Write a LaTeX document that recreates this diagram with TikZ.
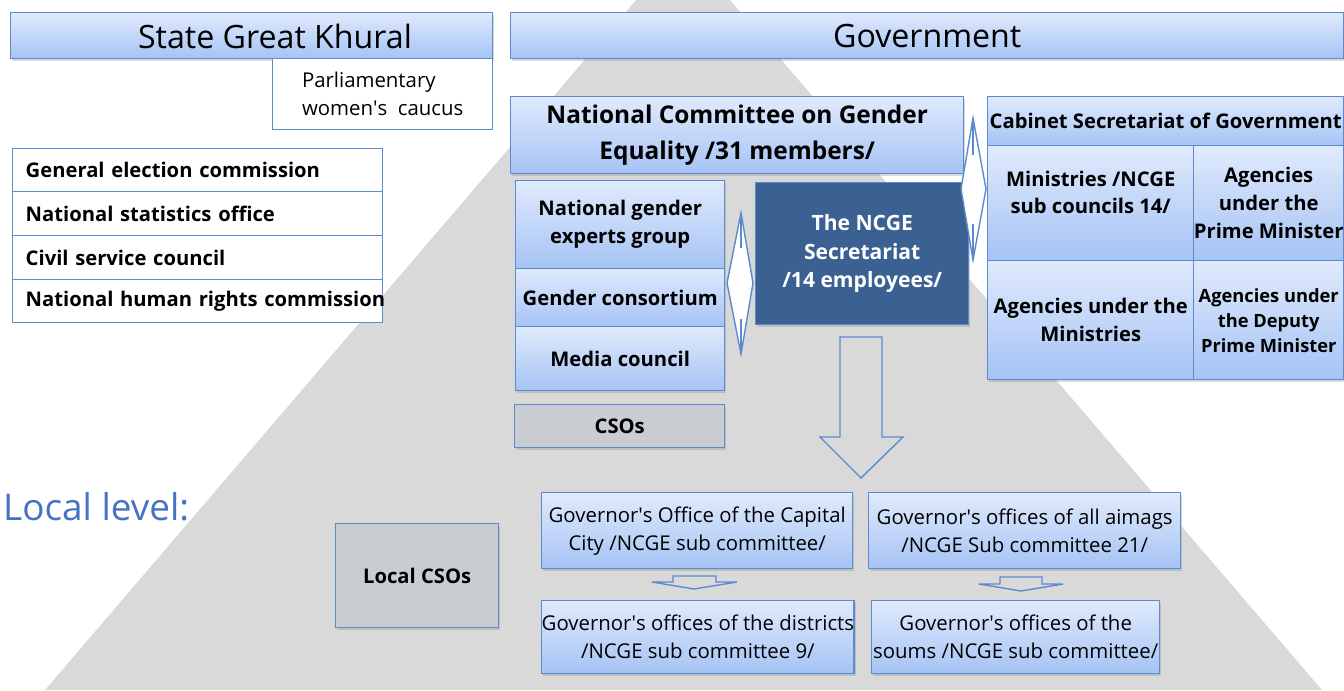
\documentclass[tikz,border=0pt]{standalone}
\usepackage{fontspec}
\setmainfont{Open Sans}
\usepackage{tikz}
\usetikzlibrary{shadows}

\definecolor{boxline}{RGB}{91,139,205}
\definecolor{boxtop}{RGB}{224,234,252}
\definecolor{boxbottom}{RGB}{165,195,245}
\definecolor{secblue}{RGB}{58,97,146}
\definecolor{csogray}{RGB}{201,205,210}
\definecolor{pyramidgray}{RGB}{217,217,217}
\definecolor{localblue}{RGB}{68,114,196}

\newcommand{\apos}{\textquotesingle}
\tikzset{boxsize/.style 2 args={minimum width=#1*0.02cm, minimum height=#2*0.02cm}}

\begin{document}
\begin{tikzpicture}[x=0.02cm, y=-0.02cm,
	box/.style={rectangle, draw=boxline, line width=0.8pt, inner sep=0pt, align=center, anchor=north west},
	shadowed/.style={drop shadow={shadow xshift=1pt, shadow yshift=-1.3pt, opacity=0.3}},
	bluebox/.style={box, shadowed, top color=boxtop, bottom color=boxbottom},
	whitebox/.style={box, fill=white},
	graybox/.style={box, shadowed, fill=csogray},
	darkbox/.style={box, shadowed, fill=secblue, text=white},
	title/.style={font=\fontsize{18.3}{22}\selectfont},
	bigbold/.style={font=\bfseries\fontsize{13.9}{20.4}\selectfont},
	bold/.style={font=\bfseries\fontsize{11.5}{15.9}\selectfont},
	plain/.style={font=\fontsize{11.6}{15.9}\selectfont},
	listitem/.style={bold, text width=6.88cm, align=left},
	blockarrow/.style={draw=boxline, line width=0.8pt, line join=miter}]
	
	\useasboundingbox (0,0) rectangle (1344,690);
	\fill[pyramidgray] (45,690) -- (636,0) -- (730,0) -- (1322,690) -- cycle;
	
	% parliament side
	\node[bluebox, boxsize={482}{46}] (khural) at (10,12) {};
	\node[title] (khural title) at (275,36) {State Great Khural};
	\node[whitebox, plain, align=left, boxsize={220}{71}] (caucus) at (272,58) {Parliamentary\\women\apos s\ \ caucus};
	
	\node[whitebox, listitem, boxsize={370}{43}] (election) at (12,148) {General election commission};
	\node[whitebox, listitem, boxsize={370}{44}] (statistics) at (12,191) {National statistics office};
	\node[whitebox, listitem, boxsize={370}{44}] (civil) at (12,235) {Civil service council};
	\node[whitebox, listitem, boxsize={370}{43}] (rights) at (12,279) {\mbox{National human rights commission}};
	
	% government side
	\node[bluebox, title, boxsize={833}{46}] (government) at (510,12) {Government};
	\node[bluebox, bigbold, boxsize={453}{77}] (ncge) at (510,96) {National Committee on Gender\\Equality /31 members/};
	
	\node[bluebox, bold, boxsize={209}{88}] (experts) at (515,180) {National gender\\experts group};
	\node[bluebox, bold, boxsize={209}{58}] (consortium) at (515,268) {Gender consortium};
	\node[bluebox, bold, boxsize={209}{64}] (media) at (515,326) {Media council};
	\node[graybox, bold, boxsize={210}{43}] (csos) at (514,404) {CSOs};
	
	\node[darkbox, bold, font=\bfseries\fontsize{12}{16.2}\selectfont, boxsize={213}{142}] (secretariat) at (755,182) {The NCGE\\Secretariat\\/14 employees/};
	
	\node[bluebox, bold, boxsize={356}{49}] (cabinet) at (987,96) {Cabinet Secretariat of Government};
	\node[bluebox, bold, boxsize={206}{115}] (ministries) at (987,145) {Ministries /NCGE\\sub councils 14/\\[-3.5pt]};
	\node[bluebox, bold, boxsize={150}{115}] (pm agencies) at (1193,145) {Agencies\\under the\\Prime Minister};
	\node[bluebox, bold, boxsize={206}{119}] (ministry agencies) at (987,260) {Agencies under the\\Ministries};
	\node[bluebox, bold, font=\bfseries\fontsize{10.4}{14.2}\selectfont, boxsize={150}{119}] (dpm agencies) at (1193,260) {Agencies under\\the Deputy\\Prime Minister};
	
	\draw[blockarrow, fill=white] (741,213) -- (753,283) -- (741,354) -- (727,283) -- cycle;
	\draw[blockarrow] (741,213) -- (741,248) (741,319) -- (741,354);
	\draw[blockarrow, fill=white] (973,118) -- (986,189) -- (973,260) -- (961,189) -- cycle;
	\draw[blockarrow] (973,118) -- (973,155) (973,224) -- (973,260);
	
	\draw[blockarrow] (840,337) -- (882,337) -- (882,437) -- (903,437) -- (861,478) -- (820,437) -- (840,437) -- cycle;
	
	% local level
	\node[anchor=west, text=localblue, font=\fontsize{21}{24}\selectfont] (local) at (-3,507) {Local level:};
	\node[graybox, bold, boxsize={163}{104}] (local csos) at (335,523) {Local CSOs};
	
	\node[bluebox, plain, boxsize={311}{76}] (capital) at (541,492) {Governor\apos s Office of the Capital\\City /NCGE sub committee/};
	\node[bluebox, plain, boxsize={312}{76}] (aimags) at (868,492) {Governor\apos s offices of all aimags\\/NCGE Sub committee 21/};
	\node[bluebox, plain, boxsize={311}{73}] (districts) at (541,600) {Governor\apos s offices of the districts\\/NCGE sub committee 9/};
	\node[bluebox, plain, boxsize={288}{73}] (soums) at (871,600) {Governor\apos s offices of the\\soums /NCGE sub committee/};
	
	\draw[blockarrow] (673,576) -- (716,576) -- (716,582) -- (737,582) -- (694,589) -- (652,582) -- (673,582) -- cycle;
	\draw[blockarrow] (1000,577) -- (1042,577) -- (1042,584) -- (1063,584) -- (1021,591) -- (979,584) -- (1000,584) -- cycle;
\end{tikzpicture}
\end{document}
